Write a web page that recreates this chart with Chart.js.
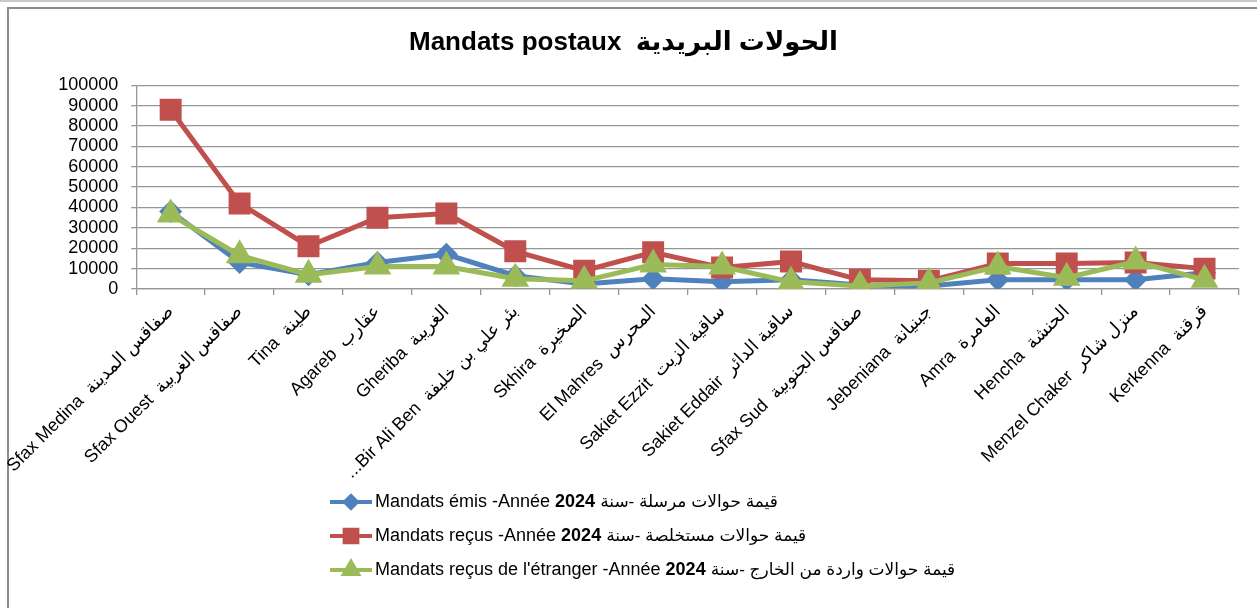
<!DOCTYPE html>
<html>
<head>
<meta charset="utf-8">
<title>Mandats postaux</title>
<script src="https://cdn.jsdelivr.net/npm/chart.js@4.4.1/dist/chart.umd.min.js"></script>
<style>
  html, body { margin: 0; padding: 0; background: #fff; }
  #wrap { position: relative; width: 1257px; height: 608px; overflow: hidden; }
  #topline { position: absolute; left: 0; top: 0; width: 1257px; height: 2px; background: #c8c8c8; }
  #frame { position: absolute; left: 7px; top: 7px; width: 1300px; height: 700px; border: 2px solid #8c8c8c; }
  #chart { position: absolute; left: 0; top: 0; }
</style>
</head>
<body>
<div id="wrap">
  <div id="topline"></div>
  <div id="frame"></div>
  <canvas id="chart" width="1257" height="608"></canvas>
</div>
<script>
// post offices, French name + Arabic name
const officesFr = [
  "Sfax Medina", "Sfax Ouest", "Tina", "Agareb", "Gheriba", "...Bir Ali Ben",
  "Skhira", "El Mahres", "Sakiet Ezzit", "Sakiet Eddair", "Sfax Sud",
  "Jebeniana", "Amra", "Hencha", "Menzel Chaker", "Kerkenna"
];
const officesAr = [
  "صفاقس المدينة", "صفاقس الغربية", "طينة", "عقارب", "الغريبة", "بئر علي بن خليفة",
  "الصخيرة", "المحرس", "ساقية الزيت", "ساقية الدائر", "صفاقس الجنوبية",
  "جبنيانة", "العامرة", "الحنشة", "منزل شاكر", "قرقنة"
];

const mandatsEmis     = [38000, 13000, 7000, 13000, 17000, 6500, 2500, 5000, 3500, 4500, 2000, 1500, 4500, 4500, 4500, 8000];
const mandatsRecus    = [88000, 42000, 21000, 35000, 37000, 18500, 9000, 18000, 10500, 13500, 4500, 4000, 12500, 12500, 13000, 10000];
const mandatsEtranger = [36500, 16500, 7000, 11000, 11000, 5000, 4000, 12000, 11000, 3500, 1500, 3000, 11000, 5500, 13500, 4500];

const yTicks = [0, 10000, 20000, 30000, 40000, 50000, 60000, 70000, 80000, 90000, 100000];

const legendFr = ["Mandats émis -Année ", "Mandats reçus -Année ", "Mandats reçus de l'étranger -Année "];
const legendYear = "2024";
const legendAr = ["قيمة حوالات مرسلة -سنة", "قيمة حوالات مستخلصة -سنة", "قيمة حوالات واردة من الخارج -سنة"];

const FONT = '"Liberation Sans", "DejaVu Sans", sans-serif';
const labels = officesFr.map((fr, i) => fr + "  " + officesAr[i]);

// legend stacked one entry per row under the axis labels
const rowLegend = {
  id: "rowLegend",
  afterDraw(chart) {
    const ctx = chart.ctx;
    const x0 = 330;
    const top = chart.scales.x.bottom + 23;
    ctx.save();
    chart.data.datasets.forEach((ds, i) => {
      const y = top + i * 34;
      ctx.strokeStyle = ds.borderColor;
      ctx.fillStyle = ds.backgroundColor;
      ctx.lineWidth = 4;
      ctx.beginPath();
      ctx.moveTo(x0, y);
      ctx.lineTo(x0 + 42, y);
      ctx.stroke();
      Chart.helpers.drawPoint(ctx, {
        pointStyle: ds.pointStyle, rotation: 0,
        radius: ds.legendRadius, borderWidth: 1
      }, x0 + 21, y);

      let x = x0 + 45;
      ctx.fillStyle = "#000";
      ctx.textBaseline = "middle";
      ctx.textAlign = "left";
      ctx.font = "18px " + FONT;
      ctx.fillText(legendFr[i], x, y);
      x += ctx.measureText(legendFr[i]).width;
      ctx.font = "bold 18px " + FONT;
      ctx.fillText(legendYear, x, y);
      x += ctx.measureText(legendYear + " ").width;
      ctx.font = "17px " + FONT;
      ctx.fillText(legendAr[i], x, y);
    });
    ctx.restore();
  }
};

new Chart(document.getElementById("chart"), {
  type: "line",
  data: {
    labels,
    datasets: [
      {
        label: "Mandats émis -Année 2024",
        data: mandatsEmis,
        borderColor: "#4f81bd",
        backgroundColor: "#4f81bd",
        borderWidth: 5,
        pointStyle: "rectRot",
        pointRadius: 8,
        legendRadius: 6,
        tension: 0,
        order: 2,
      },
      {
        label: "Mandats reçus -Année 2024",
        data: mandatsRecus,
        borderColor: "#c0504d",
        backgroundColor: "#c0504d",
        borderWidth: 5,
        pointStyle: "rect",
        pointRadius: 12,
        legendRadius: 9,
        tension: 0,
        order: 1,
      },
      {
        label: "Mandats reçus de l'étranger -Année 2024",
        data: mandatsEtranger,
        borderColor: "#9bbb59",
        backgroundColor: "#9bbb59",
        borderWidth: 5,
        pointStyle: "triangle",
        pointRadius: 11,
        legendRadius: 8,
        tension: 0,
        order: 0,
      },
    ],
  },
  options: {
    responsive: false,
    animation: false,
    devicePixelRatio: 1,
    layout: { padding: { left: 8, right: 18, top: 27, bottom: 129 } },
    plugins: {
      legend: { display: false },
      tooltip: { enabled: false },
      title: {
        display: true,
        text: "Mandats postaux  الحولات البريدية",
        color: "#000",
        font: { family: FONT, size: 26, weight: "bold", lineHeight: 1.2 },
        padding: { top: 0, bottom: 27 },
      },
    },
    scales: {
      x: {
        offset: true,
        grid: { offset: true, drawOnChartArea: false, drawTicks: true, tickLength: 6, color: "#969696", lineWidth: 1.3 },
        border: { color: "#969696", width: 1.3 },
        ticks: {
          autoSkip: false, minRotation: 45, maxRotation: 45, padding: 6,
          color: "#000", font: { family: FONT, size: 18 },
        },
        afterFit(scale) { scale.height = 190; },
      },
      y: {
        min: 0,
        max: 100000,
        afterBuildTicks(scale) { scale.ticks = yTicks.map((v) => ({ value: v })); },
        grid: { color: "#969696", tickLength: 5, lineWidth: 1.3 },
        border: { color: "#969696", width: 1.3 },
        ticks: {
          autoSkip: false,
          padding: 13, color: "#000", font: { family: FONT, size: 18 },
          callback: (v) => String(v),
        },
        afterFit(scale) { scale.width = 127; },
      },
    },
  },
  plugins: [rowLegend],
});
</script>
</body>
</html>
